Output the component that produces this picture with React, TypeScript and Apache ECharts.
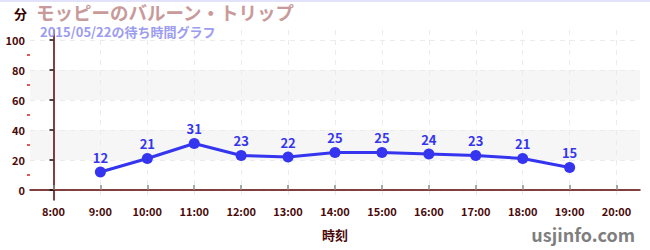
import React, { useEffect, useRef } from "react";
import * as echarts from "echarts";

const hours = ["8:00", "9:00", "10:00", "11:00", "12:00", "13:00", "14:00", "15:00", "16:00", "17:00", "18:00", "19:00", "20:00"];
const waits: (number | null)[] = [null, 12, 21, 31, 23, 22, 25, 25, 24, 23, 21, 15, null];
const majorTicks = [0, 20, 40, 60, 80, 100];
const minorTicks = [10, 30, 50, 70, 90];
const titleText = "モッピーのバルーン・トリップ";
const subText = "2015/05/22の待ち時間グラフ";
const unitText = "分";
const xName = "時刻";
const watermark = "usjinfo.com";

const FONT = "'Noto Sans CJK JP', 'Noto Sans', sans-serif";
const MAROON = "#4a0a0a";

export default function App() {
  const ref = useRef<HTMLDivElement>(null);
  useEffect(() => {
    document.body.style.margin = "0";
    const chart = echarts.init(ref.current!, null, { renderer: "svg" });
    const hourIdx = hours.map((_, i) => i);
    const points = waits.map((v, i) => [i, v]).filter((p) => p[1] !== null);
    chart.setOption({
      animation: false,
      textStyle: { fontFamily: FONT },
      title: [
        {
          text: titleText,
          left: 36,
          top: 2,
          padding: 0,
          textStyle: { fontFamily: FONT, fontSize: 18.5, fontWeight: "bold", color: "#c99a9a", lineHeight: 20 },
        },
        {
          text: subText,
          left: 40,
          top: 25,
          padding: 0,
          textStyle: { fontFamily: FONT, fontSize: 13, fontWeight: "bold", color: "#9c9cf0", lineHeight: 13 },
        },
      ],
      graphic: [
        { type: "rect", left: 0, top: 0, shape: { width: 650, height: 2 }, style: { fill: "#e2e2fa" } },
        {
          type: "text",
          left: 14,
          top: 7,
          style: { text: unitText, font: `bold 13px ${FONT}`, fill: "#330000" },
        },
        {
          type: "text",
          right: 15,
          bottom: 7,
          style: { text: watermark, font: `bold 18px ${FONT}`, fill: "#7f7f7f" },
        },
      ],
      grid: { left: 30, right: 10, top: 30, bottom: 50, containLabel: false },
      xAxis: {
        type: "value",
        min: -0.5,
        max: hours.length - 0.5,
        name: xName,
        nameLocation: "middle",
        nameGap: 28,
        nameTextStyle: { fontFamily: FONT, fontSize: 13, fontWeight: "bold", color: MAROON },
        axisLine: { lineStyle: { color: "#5c0000", width: 1.5 } },
        axisTick: { customValues: hourIdx, inside: true, length: 5, lineStyle: { color: "#8a8a8a", width: 1.5 } },
        axisLabel: {
          customValues: hourIdx,
          formatter: (v: number) => hours[Math.round(v)] ?? "",
          fontFamily: FONT,
          fontSize: 11,
          fontWeight: "bold",
          color: MAROON,
          margin: 5,
        },
        splitLine: { show: true, lineStyle: { color: "#ebebeb", type: [5, 5] } },
      },
      yAxis: [
        {
          type: "value",
          min: -20 / 3,
          max: 320 / 3,
          axisLine: { show: true, lineStyle: { color: "#5c0000", width: 1.5 } },
          axisTick: { show: true, customValues: majorTicks, length: 4, lineStyle: { color: "#111", width: 1.5 } },
          axisLabel: { customValues: majorTicks, fontFamily: FONT, fontSize: 11, fontWeight: "bold", color: MAROON, margin: 5 },
          splitLine: { show: true, lineStyle: { color: "#ebebeb", type: [5, 5] } },
          splitArea: { show: true, areaStyle: { color: ["rgba(0,0,0,0)", "#f6f6f6"] } },
        },
        {
          type: "value",
          min: -20 / 3,
          max: 320 / 3,
          position: "left",
          axisLine: { show: false },
          axisTick: { show: true, customValues: minorTicks, length: 3, lineStyle: { color: "#d42020", width: 1.5 } },
          axisLabel: { show: false },
          splitLine: { show: false },
          splitArea: { show: false },
        },
      ],
      series: [
        {
          type: "line",
          data: points,
          yAxisIndex: 0,
          symbol: "circle",
          symbolSize: 11,
          lineStyle: { color: "#3535f0", width: 3 },
          itemStyle: { color: "#3535f0" },
          label: {
            show: true,
            position: "top",
            distance: 3,
            formatter: (p: any) => String(p.value[1]),
            fontFamily: FONT,
            fontSize: 13,
            fontWeight: "bold",
            color: "#3535f0",
          },
        },
      ],
    });
    return () => chart.dispose();
  }, []);
  return <div ref={ref} style={{ position: "absolute", left: 0, top: 0, width: 650, height: 250 }} />;
}
